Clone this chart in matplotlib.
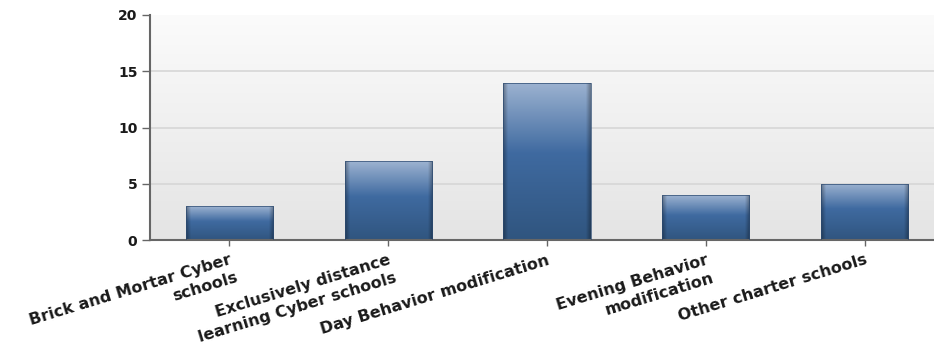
import numpy as np
import matplotlib
matplotlib.use("Agg")
import matplotlib.pyplot as plt
from matplotlib.patches import Rectangle
from matplotlib.colors import to_rgb

categories = [
    "Brick and Mortar Cyber\nschools",
    "Exclusively distance\nlearning Cyber schools",
    "Day Behavior modification",
    "Evening Behavior\nmodification",
    "Other charter schools",
]
counts = [3, 7, 14, 4, 5]
y_ticks = [0, 5, 10, 15, 20]

plt.rcParams["font.family"] = ["DejaVu Sans"]

W, H = 934, 360
fig = plt.figure(figsize=(W / 100, H / 100), dpi=100)
fig.patch.set_facecolor("white")
ax = fig.add_axes([150 / W, 120 / H, 794 / W, 225 / H])

ax.set_xlim(-0.5, len(categories) - 0.5)
ax.set_ylim(0, 20)

# plot-area background: soft vertical gradient
bg = np.linspace(0, 1, 256)[:, None]
top_c = np.array(to_rgb("#fbfbfb"))
bot_c = np.array(to_rgb("#e4e4e4"))
bg_img = top_c * (1 - bg[..., None]) + bot_c * bg[..., None]
ax.imshow(bg_img, extent=(-0.5, len(categories) - 0.5, 0, 20), aspect="auto",
          origin="upper", zorder=0, interpolation="bilinear")

for y in y_ticks[1:-1]:
    ax.axhline(y, color="#d6d6d6", lw=1.2, zorder=1)

# bars with a glossy blue gradient
bar_w = 0.55
stops_y = np.array([0.0, 0.45, 1.0])
stops_c = np.array([to_rgb("#9db3d1"), to_rgb("#3f6aa0"), to_rgb("#30557f")])
ny, nx = 200, 60
t = np.linspace(0, 1, ny)
col = np.stack([np.interp(t, stops_y, stops_c[:, k]) for k in range(3)], axis=1)
xs = np.linspace(0, 1, nx)
edge = 1 - 0.3 * (np.clip(1 - xs / 0.05, 0, 1) + np.clip(1 - (1 - xs) / 0.05, 0, 1))
bar_img = col[:, None, :] * edge[None, :, None]

for i, v in enumerate(counts):
    x0 = i - bar_w / 2
    rect = Rectangle((x0, 0), bar_w, v, facecolor="none", edgecolor="#2c4a70",
                     lw=0.5, zorder=3)
    ax.add_patch(rect)
    im = ax.imshow(bar_img, extent=(x0, x0 + bar_w, 0, v), aspect="auto",
                   origin="upper", zorder=2, interpolation="bilinear")
    im.set_clip_path(rect)

ax.set_yticks(y_ticks)
ax.set_yticklabels([str(v) for v in y_ticks], fontsize=10, fontweight="bold",
                   color="#1a1a1a")
ax.set_xticks(range(len(categories)))
ax.set_xticklabels(categories, fontsize=11.5, fontweight="bold", color="#1a1a1a",
                   rotation=17, ha="right", rotation_mode="anchor",
                   multialignment="right", linespacing=1.3)
ax.tick_params(axis="x", length=4, width=1, color="#666666", pad=5)
ax.tick_params(axis="y", length=6, width=1, color="#666666", pad=3)

for s in ["top", "right"]:
    ax.spines[s].set_visible(False)
for s in ["left", "bottom"]:
    ax.spines[s].set_color("#666666")
    ax.spines[s].set_linewidth(1.5)

fig.savefig("out.png", dpi=100)
